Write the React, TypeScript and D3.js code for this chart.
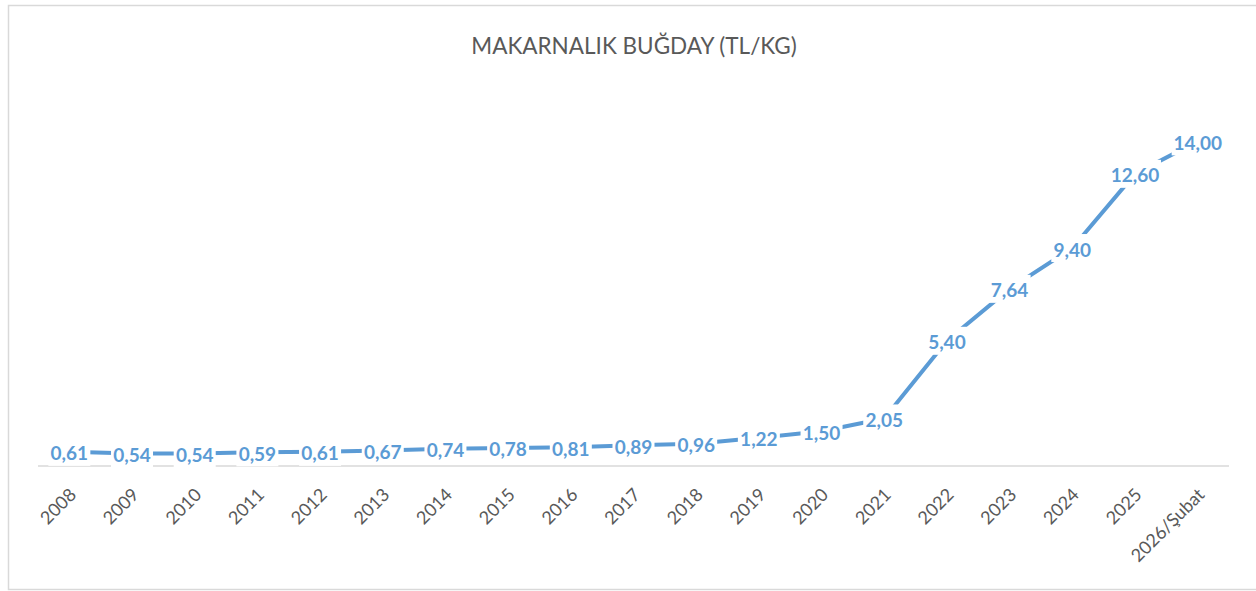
import React from "react";
import * as d3 from "d3";

const categories: string[] = [
  "2008", "2009", "2010", "2011", "2012", "2013", "2014", "2015", "2016", "2017",
  "2018", "2019", "2020", "2021", "2022", "2023", "2024", "2025", "2026/Şubat",
];
const values: number[] = [
  0.61, 0.54, 0.54, 0.59, 0.61, 0.67, 0.74, 0.78, 0.81, 0.89,
  0.96, 1.22, 1.5, 2.05, 5.4, 7.64, 9.4, 12.6, 14.0,
];
const title = "MAKARNALIK BUĞDAY (TL/KG)";
const yDomain: [number, number] = [0, 16];

const W = 1256;
const H = 591;
const FONT = "Lato, 'Open Sans', sans-serif";
const BLUE = "#5B9BD5";
const GRAY = "#595959";

function fmt(v: number): string {
  return v.toFixed(2).replace(".", ",");
}

export default function App() {
  const x = d3.scalePoint<string>().domain(categories).range([38, 1229]).padding(0.5);
  const y = d3.scaleLinear().domain(yDomain).range([466, 95]);
  const line = d3
    .line<number>()
    .x((_, i) => x(categories[i]) as number)
    .y((d) => y(d));

  const labelW = (s: string) => s.length * 10 + 2;

  return (
    <svg
      width={W}
      height={H}
      style={{ position: "absolute", left: 0, top: 0, background: "#fff" }}
    >
      <rect x={0} y={0} width={W} height={H} fill="#fff" />
      <rect x={8.5} y={5.5} width={1300} height={584} fill="none" stroke="#d9d9d9" strokeWidth={1.5} />
      <text
        x={634}
        y={45}
        textAnchor="middle"
        dominantBaseline="central"
        fontFamily={FONT}
        fontSize={22.5}
        fill={GRAY}
      >
        {title}
      </text>
      <line x1={38} x2={1229} y1={y(0)} y2={y(0)} stroke="#d9d9d9" strokeWidth={1.5} />
      <path d={line(values) || ""} fill="none" stroke={BLUE} strokeWidth={4} strokeLinejoin="round" />
      {values.map((v, i) => {
        const cx = x(categories[i]) as number;
        const cy = y(v);
        const s = fmt(v);
        const w = labelW(s);
        return (
          <g key={categories[i]}>
            <rect x={cx - w / 2} y={cy - 14} width={w} height={28} fill="#fff" />
            <text
              x={cx}
              y={cy + 1}
              textAnchor="middle"
              dominantBaseline="central"
              fontFamily={FONT}
              fontWeight="bold"
              fontSize={19}
              fill={BLUE}
            >
              {s}
            </text>
          </g>
        );
      })}
      {categories.map((c) => {
        const cx = (x(c) as number) + 3;
        const cy = 491;
        return (
          <text
            key={c}
            transform={`translate(${cx},${cy}) rotate(-45)`}
            textAnchor="end"
            dominantBaseline="central"
            fontFamily={FONT}
            fontSize={18}
            fill={GRAY}
          >
            {c}
          </text>
        );
      })}
    </svg>
  );
}
